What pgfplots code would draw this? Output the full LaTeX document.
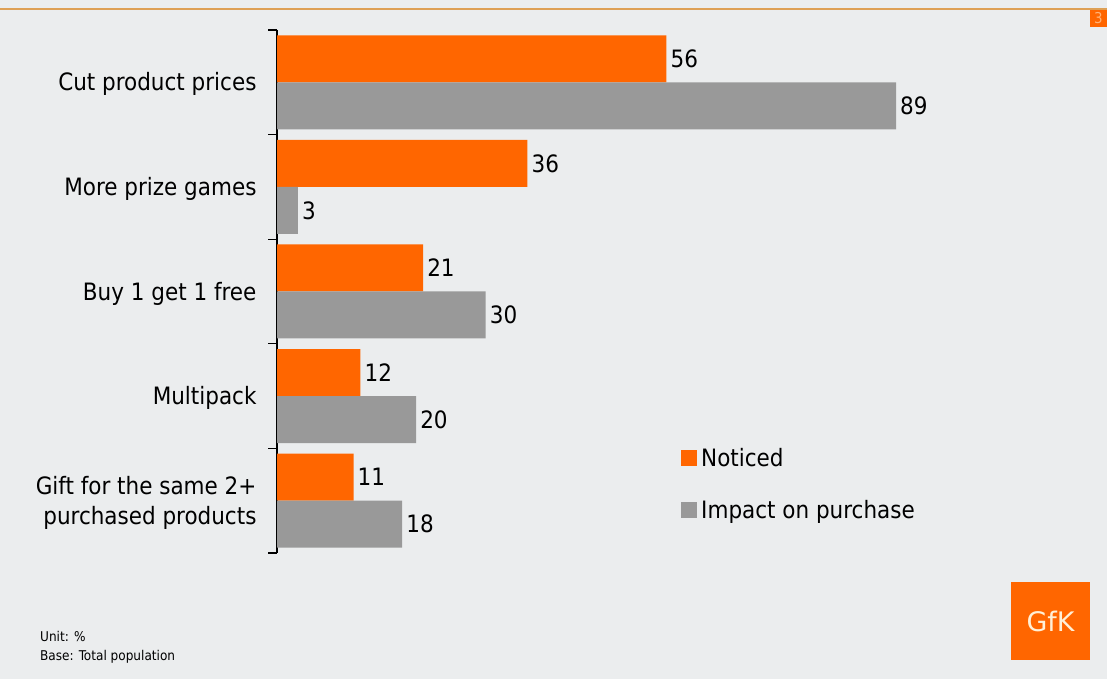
\documentclass[border=0pt]{standalone}
\usepackage{fontspec}
\setmainfont{DejaVu Sans Condensed}
\newfontfamily\logofont{DejaVu Sans}
\usepackage{pgfplots}
\pgfplotsset{compat=1.18}
\definecolor{bg}{HTML}{EBEDEE}
\definecolor{gorange}{HTML}{FF6600}
\definecolor{ggray}{HTML}{999999}
\definecolor{topline}{RGB}{222,160,85}
\definecolor{peach}{RGB}{255,180,120}
\definecolor{cream}{RGB}{255,240,215}
\begin{document}
\begin{tikzpicture}[x=1bp,y=1bp]
\fill[bg] (0,0) rectangle (1107,679);
\fill[topline] (0,668.5) rectangle (1107,670.5);
\fill[gorange] (1090,652) rectangle (1107,669);
\node[text=peach, font=\fontsize{15}{15}\selectfont] at (1098.5,660.5) {3};
\fill[gorange] (1011,19) rectangle (1090,97);
\node[text=cream, font=\logofont\fontsize{27}{27}\selectfont] at (1050.5,58) {GfK};
\node[anchor=west, align=left, inner sep=0pt, font=\fontsize{13.5}{19}\selectfont] at (40,31.5) {Unit: \%\\Base: Total population};
\begin{axis}[
  at={(277bp,126bp)}, anchor=south west,
  scale only axis, width=695.5bp, height=523bp,
  xmin=0, xmax=100, ymin=-0.5, ymax=4.5, y dir=reverse,
  axis x line=none, axis y line*=left,
  y axis line style={black, line width=1.5bp},
  xbar, bar width=47bp,
  ytick={0,1,2,3,4},
  yticklabels={Cut product prices, More prize games, Buy 1 get 1 free, Multipack, {Gift for the same 2+\\purchased products}},
  yticklabel style={align=right, font=\fontsize{24}{30}\selectfont, xshift=-17bp, yshift=-2bp},
  major tick length=0pt,
  extra y ticks={-0.5,0.5,1.5,2.5,3.5,4.5},
  extra y tick labels={},
  extra y tick style={major tick length=9bp, tick align=outside, tick style={black, line width=1.2bp}},
  nodes near coords,
  nodes near coords style={font=\fontsize{24}{24}\selectfont, inner sep=4bp, text=black},
  /pgf/number format/assume math mode=true,
  clip=false,
  legend style={at={(0.5809,0.208)}, anchor=north west, draw=none, fill=none, inner sep=0pt, row sep=24bp, font=\fontsize{24}{24}\selectfont, nodes={inner sep=4bp}},
  legend cell align=left,
  legend image code/.code={\fill[#1] (0bp,-8bp) rectangle (16bp,8bp);},
]
\addplot[fill=gorange, draw=none, bar shift=23.5bp] coordinates {(56,0) (36,1) (21,2) (12,3) (11,4)};
\addlegendentry{Noticed}
\addplot[fill=ggray, draw=none, bar shift=-23.5bp] coordinates {(89,0) (3,1) (30,2) (20,3) (18,4)};
\addlegendentry{Impact on purchase}
\end{axis}
\end{tikzpicture}
\end{document}
